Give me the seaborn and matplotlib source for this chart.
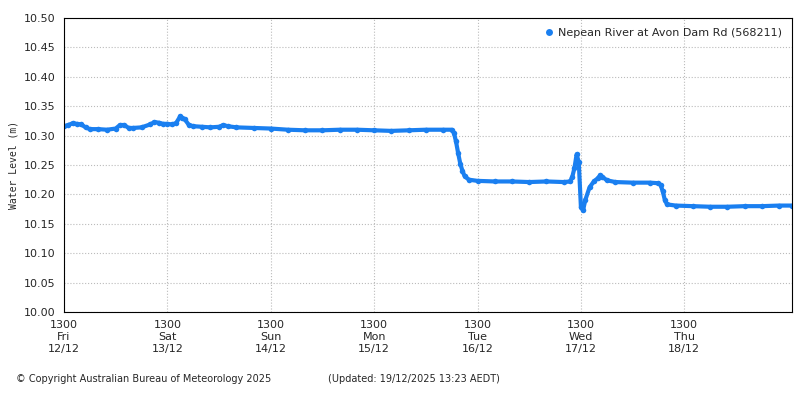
import matplotlib
matplotlib.use('Agg')
import matplotlib.pyplot as plt
import seaborn as sns
import pandas as pd

# hours since 13:00 Fri 12/12 and water level (m)
hours = [0, 1, 2, 3, 4, 5, 6, 8, 10, 12, 13, 14, 15, 16, 18, 20, 21, 22, 23, 24,
         25, 26, 27, 27.5, 28, 29, 30, 32, 34, 36, 37, 38, 40, 44, 48, 52, 56, 60,
         64, 68, 72, 76, 80, 84, 88, 90, 90.5, 91, 91.5, 92, 92.5, 93, 94, 96, 100,
         104, 108, 112, 116, 117.5, 118, 118.5, 119, 119.5, 120, 120.5, 121, 122,
         123, 124, 124.5, 125, 126, 128, 132, 136, 138, 138.5, 139, 139.5, 140,
         142, 146, 150, 154, 158, 162, 166, 169]
levels = [10.316, 10.318, 10.321, 10.320, 10.319, 10.314, 10.311, 10.311, 10.310, 10.312,
          10.318, 10.318, 10.313, 10.313, 10.314, 10.319, 10.323, 10.322, 10.320, 10.320,
          10.319, 10.321, 10.333, 10.330, 10.328, 10.318, 10.316, 10.315, 10.314, 10.315,
          10.318, 10.316, 10.314, 10.313, 10.312, 10.310, 10.309, 10.309, 10.310, 10.310,
          10.309, 10.308, 10.309, 10.310, 10.310, 10.310, 10.305, 10.290, 10.270, 10.252,
          10.240, 10.231, 10.225, 10.223, 10.222, 10.222, 10.221, 10.222, 10.221, 10.222,
          10.230, 10.245, 10.268, 10.255, 10.178, 10.173, 10.190, 10.212, 10.222, 10.228,
          10.233, 10.230, 10.224, 10.221, 10.220, 10.220, 10.219, 10.216, 10.205, 10.190,
          10.183, 10.181, 10.180, 10.179, 10.179, 10.180, 10.180, 10.181, 10.181]

tick_hours = [0, 24, 48, 72, 96, 120, 144]
tick_labels = ['1300\nFri\n12/12', '1300\nSat\n13/12', '1300\nSun\n14/12', '1300\nMon\n15/12',
               '1300\nTue\n16/12', '1300\nWed\n17/12', '1300\nThu\n18/12']

df = pd.DataFrame({'hours': hours, 'level': levels})

sns.set_theme(style='white')
plt.rcParams['font.family'] = ['DejaVu Sans']
fig = plt.figure(figsize=(8, 4), dpi=100)
ax = fig.add_axes([0.08, 0.22, 0.91, 0.735])

sns.lineplot(data=df, x='hours', y='level', ax=ax, color='#1a7ff0', linewidth=3,
             marker='o', markersize=4, markeredgewidth=0,
             label='Nepean River at Avon Dam Rd (568211)')

ax.set_xlim(0, 169)
ax.set_ylim(10.0, 10.5)
ax.set_yticks([10 + 0.05 * i for i in range(11)])
ax.set_yticklabels([f'{10 + 0.05 * i:.2f}' for i in range(11)], fontsize=8)
ax.set_xticks(tick_hours)
ax.set_xticklabels(tick_labels, fontsize=8)
ax.set_xlabel('')
ax.set_ylabel('Water Level (m)', fontsize=7, family='DejaVu Sans Mono')
ax.grid(True, color='#bbbbbb', linestyle=':', linewidth=0.8)
for s in ax.spines.values():
    s.set_color('black')
    s.set_linewidth(0.8)
ax.tick_params(length=4, color='black', width=0.6, pad=2)

leg = ax.legend(loc='upper right', frameon=False, fontsize=8, handlelength=0.6,
                handletextpad=0.5)
for h in leg.legend_handles:
    h.set_linestyle('')
    h.set_markersize(5)

fig.text(0.02, 0.045, '© Copyright Australian Bureau of Meteorology 2025', fontsize=7)
fig.text(0.41, 0.045, '(Updated: 19/12/2025 13:23 AEDT)', fontsize=7)

fig.savefig('out.png', dpi=100)
